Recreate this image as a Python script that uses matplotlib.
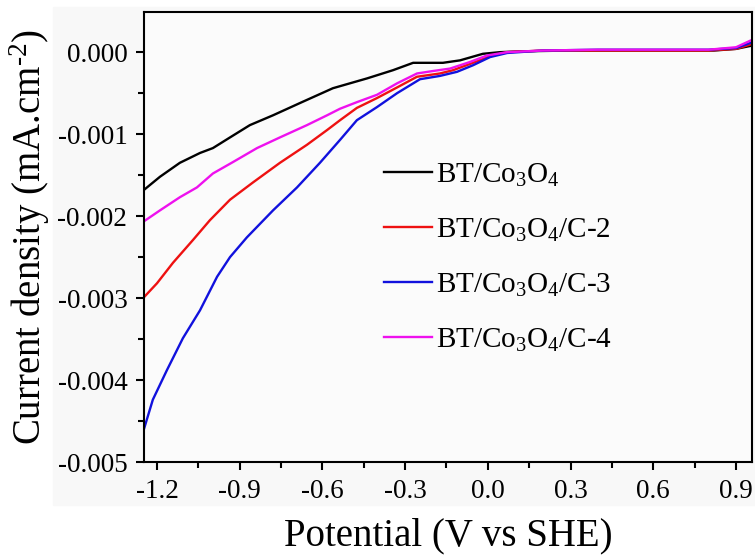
import numpy as np
import matplotlib
matplotlib.use("Agg")
import matplotlib.pyplot as plt
from matplotlib.patches import Rectangle
from matplotlib.ticker import MultipleLocator, FormatStrFormatter

plt.rcParams["font.family"] = ["Liberation Serif", "DejaVu Serif"]
plt.rcParams["mathtext.fontset"] = "custom"
plt.rcParams["mathtext.rm"] = "Liberation Serif"
plt.rcParams["mathtext.it"] = "Liberation Serif:italic"
plt.rcParams["axes.unicode_minus"] = False

# LSV curves, potential (V vs SHE) and current density (mA/cm2)
v_bt = [-1.247, -1.189, -1.117, -1.044, -0.997, -0.935, -0.863, -0.779, -0.681,
        -0.562, -0.438, -0.344, -0.271, -0.163, -0.101, -0.018, 0.044, 0.117,
        0.3, 0.5, 0.7, 0.82, 0.9, 0.958]
j_bt = [-0.00168, -0.00152, -0.00135, -0.00123, -0.00117, -0.00104, -0.00089,
        -0.00077, -0.00062, -0.00044, -0.00032, -0.00022, -0.00013, -0.00013,
        -0.00010, -0.00002, 0.0, 0.00001, 0.00002, 0.00002, 0.00002, 0.00002,
        0.00004, 0.00008]

v_c2 = [-1.25, -1.2, -1.142, -1.069, -1.008, -0.935, -0.852, -0.754, -0.656,
        -0.583, -0.536, -0.475, -0.402, -0.329, -0.257, -0.174, -0.126, -0.054,
        0.008, 0.07, 0.2, 0.4, 0.6, 0.8, 0.9, 0.958]
j_c2 = [-0.0030, -0.00282, -0.00257, -0.00229, -0.00205, -0.00180, -0.00159,
        -0.00135, -0.00113, -0.00095, -0.00083, -0.00068, -0.00056, -0.00043,
        -0.00030, -0.00026, -0.00022, -0.00013, -0.00005, 0.0, 0.00002, 0.00002,
        0.00002, 0.00002, 0.00004, 0.00010]

v_c3 = [-1.25, -1.215, -1.164, -1.106, -1.044, -0.982, -0.935, -0.874, -0.779,
        -0.692, -0.609, -0.536, -0.475, -0.402, -0.329, -0.246, -0.174, -0.112,
        -0.054, 0.008, 0.07, 0.2, 0.4, 0.6, 0.8, 0.9, 0.958]
j_c3 = [-0.00463, -0.00424, -0.00388, -0.00349, -0.00315, -0.00274, -0.00250,
        -0.00226, -0.00193, -0.00165, -0.00135, -0.00107, -0.00083, -0.00067,
        -0.00050, -0.00033, -0.00029, -0.00024, -0.00016, -0.00006, -0.00001,
        0.00002, 0.00003, 0.00003, 0.00003, 0.00005, 0.00012]

v_c4 = [-1.25, -1.189, -1.117, -1.055, -0.997, -0.924, -0.837, -0.754, -0.656,
        -0.583, -0.536, -0.475, -0.402, -0.329, -0.257, -0.199, -0.137, -0.065,
        -0.003, 0.07, 0.2, 0.4, 0.6, 0.8, 0.9, 0.958]
j_c4 = [-0.00207, -0.00193, -0.00177, -0.00165, -0.00148, -0.00134, -0.00117,
        -0.00104, -0.00089, -0.00077, -0.00069, -0.00061, -0.00052, -0.00038,
        -0.00026, -0.00023, -0.00020, -0.00012, -0.00004, 0.0, 0.00002, 0.00003,
        0.00003, 0.00003, 0.00006, 0.00015]

labels = ["BT/Co$_3$O$_4$", "BT/Co$_3$O$_4$/C-2", "BT/Co$_3$O$_4$/C-3",
          "BT/Co$_3$O$_4$/C-4"]
colors = ["black", "#ee1111", "#1111dd", "#ee11ee"]

fig = plt.figure(figsize=(7.55, 5.56), dpi=100)
fig.patches.append(Rectangle((53 / 755, 51 / 556), 702 / 755, 498 / 556,
                             transform=fig.transFigure, color="#f8f8f8",
                             zorder=-10))
ax = fig.add_axes([144 / 755, 94 / 556, 608 / 755, 450 / 556])
ax.set_facecolor("#fbfbfb")

for v, j, lab, c in zip([v_bt, v_c2, v_c3, v_c4], [j_bt, j_c2, j_c3, j_c4],
                        labels, colors):
    ax.plot(v, j, color=c, lw=1.7, label=lab)

ax.set_xlim(-1.247, 0.958)
ax.set_ylim(-0.005, 0.00049)
ax.xaxis.set_major_locator(MultipleLocator(0.3))
ax.xaxis.set_minor_locator(MultipleLocator(0.15))
ax.yaxis.set_major_locator(MultipleLocator(0.001))
ax.yaxis.set_minor_locator(MultipleLocator(0.0005))
ax.xaxis.set_major_formatter(FormatStrFormatter("%.1f"))
ax.yaxis.set_major_formatter(FormatStrFormatter("%.3f"))

ax.tick_params(which="both", direction="out", width=1.5, labelsize=19.5, pad=6)
ax.tick_params(which="major", length=6)
ax.tick_params(which="minor", length=4)
for s in ax.spines.values():
    s.set_linewidth(1.5)

ax.set_xlabel("Potential (V vs SHE)", fontsize=28, labelpad=10)
ax.set_ylabel(r"Current density (mA.cm$^{\text{-2}}$)", fontsize=28, labelpad=4)

ax.legend(loc="upper left", bbox_to_anchor=(0.37, 0.70), frameon=False,
          fontsize=21, handlelength=1.65, handletextpad=0.15, labelspacing=0.95,
          borderpad=0)

fig.savefig("out.png", dpi=100)
